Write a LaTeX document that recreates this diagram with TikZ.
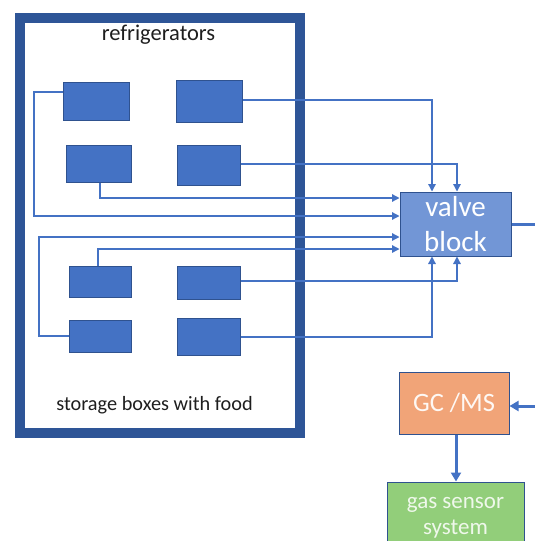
\documentclass[tikz,border=0pt]{standalone}
\usepackage{fontspec}
\setmainfont{Carlito}
\usetikzlibrary{arrows.meta}
\definecolor{frameblue}{RGB}{46,85,151}
\definecolor{boxblue}{RGB}{68,114,196}
\definecolor{boxedge}{RGB}{47,82,143}
\definecolor{valvefill}{RGB}{114,150,214}
\definecolor{gcfill}{RGB}{241,164,120}
\definecolor{gasfill}{RGB}{146,206,122}
\definecolor{txt}{RGB}{30,30,30}
\tikzset{
  sbox/.style={draw=boxedge, line width=1pt, fill=boxblue, inner sep=0pt},
  conn/.style={draw=boxblue, line width=1.3pt},
  arr/.style={conn, -{Triangle[length=7.5pt,width=7.5pt]}},
  thick arr/.style={draw=boxblue, line width=3pt, -{Triangle[length=9pt,width=10pt]}},
  bigbox/.style={draw=boxedge, line width=1pt, inner sep=0pt, align=center, text=white},
}
\begin{document}
\begin{tikzpicture}[x=1pt,y=-1pt]
\useasboundingbox (0,0) rectangle (535,541);
\clip (0,0) rectangle (535,541);
% frame
\draw[frameblue, line width=10pt] (20,17.5) rectangle (299.5,433);
\node[text=txt, font=\fontsize{22.5}{26}\selectfont] (title) at (158.5,35) {refrigerators};
\node[text=txt, font=\fontsize{20.3}{24}\selectfont] (foot) at (154.5,405) {storage boxes with food};
% storage boxes
\node[sbox, minimum width=66pt, minimum height=38pt] (b1) at (96,101) {};
\node[sbox, minimum width=66pt, minimum height=42pt] (b2) at (209,101) {};
\node[sbox, minimum width=65pt, minimum height=37pt] (b3) at (98.5,163.5) {};
\node[sbox, minimum width=63pt, minimum height=40pt] (b4) at (208.5,165) {};
\node[sbox, minimum width=62pt, minimum height=31pt] (b5) at (100,281.5) {};
\node[sbox, minimum width=63pt, minimum height=33pt] (b6) at (208.5,282.5) {};
\node[sbox, minimum width=62pt, minimum height=32pt] (b7) at (100,336) {};
\node[sbox, minimum width=63pt, minimum height=37pt] (b8) at (208.5,336.5) {};
% valve block
\node[bigbox, fill=valvefill, minimum width=111pt, minimum height=64pt,
      font=\fontsize{29}{35}\selectfont] (valve) at (455.5,224) {valve\\block};
% GC/MS
\node[bigbox, fill=gcfill, minimum width=110pt, minimum height=62pt,
      font=\fontsize{26.5}{30}\selectfont, text=white!92!gcfill] (gc) at (454,403) {GC /MS};
% gas sensor
\node[bigbox, fill=gasfill, minimum width=137pt, minimum height=64pt] (gas) at (455.5,514) {};
\node[text=white!85!gasfill, align=center, font=\fontsize{23}{26}\selectfont] (gastext) at (455.5,518) {gas sensor\\system};
% connectors, left side
\draw[arr] (b1.west |- 0,92) -- (34,92) -- (34,216) -- (valve.west |- 0,216);
\draw[arr] (b3.south -| 100,0) -- (100,198) -- (valve.west |- 0,198);
\draw[arr] (b5.north -| 98,0) -- (98,249) -- (valve.west |- 0,249);
\draw[arr] (b7.west |- 0,336) -- (39,336) -- (39,237) -- (valve.west |- 0,237);
% connectors, right side
\draw[arr] (b2.east |- 0,100) -- (432,100) -- (valve.north -| 432,0);
\draw[arr] (b4.east |- 0,164) -- (457,164) -- (valve.north -| 457,0);
\draw[arr] (b6.east |- 0,281) -- (457,281) -- (valve.south -| 457,0);
\draw[arr] (b8.east |- 0,337) -- (432,337) -- (valve.south -| 432,0);
% outputs
\coordinate (outA) at (540,224);
\coordinate (outB) at (540,406);
\draw[draw=boxblue, line width=3pt] (valve.east) -- (outA);
\draw[thick arr] (outB) -- (gc.east |- outB);
\draw[thick arr] (gc.south -| 456,0) -- (gas.north -| 456,0);
\end{tikzpicture}
\end{document}
